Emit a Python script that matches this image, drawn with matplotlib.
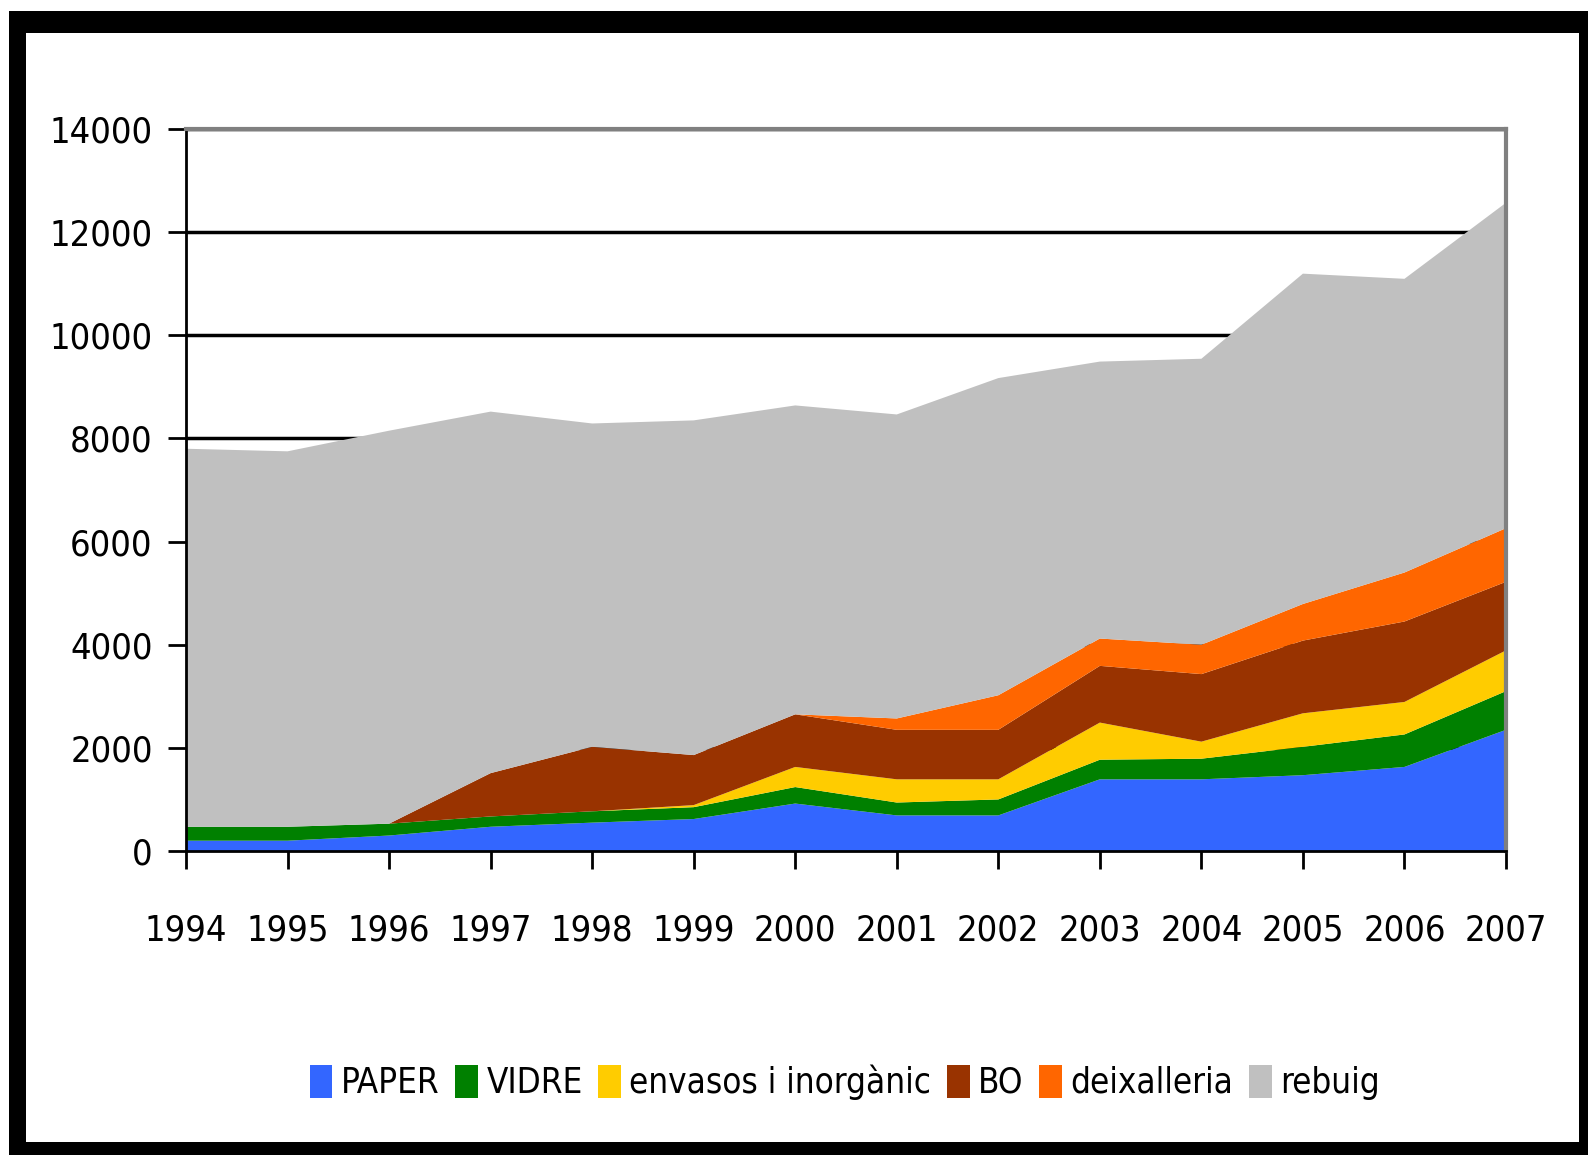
import matplotlib.pyplot as plt
from matplotlib.patches import Rectangle

years = [1994, 1995, 1996, 1997, 1998, 1999, 2000, 2001, 2002, 2003, 2004, 2005, 2006, 2007]
paper = [200, 200, 300, 470, 550, 620, 920, 690, 690, 1390, 1390, 1470, 1630, 2350]
vidre = [270, 270, 230, 200, 220, 230, 320, 250, 310, 380, 400, 550, 630, 750]
envasos = [0, 0, 0, 0, 0, 40, 390, 450, 390, 720, 330, 650, 630, 790]
bo = [0, 0, 0, 840, 1250, 970, 1020, 960, 960, 1100, 1310, 1410, 1560, 1330]
deixalleria = [0, 0, 0, 0, 0, 0, 0, 220, 670, 530, 570, 710, 950, 1040]
rebuig = [7330, 7280, 7620, 7010, 6270, 6490, 5990, 5895, 6150, 5370, 5545, 6405, 5695, 6310]

labels = ['PAPER', 'VIDRE', 'envasos i inorgànic', 'BO', 'deixalleria', 'rebuig']
colors = ['#3366FF', '#008000', '#FFCC00', '#993300', '#FF6600', '#C0C0C0']

font = dict(family='DejaVu Sans', stretch='condensed', size=26)
legfont = dict(family='DejaVu Sans', stretch='condensed', size=25)

fig = plt.figure(figsize=(15.88, 11.55), dpi=100)
ax = fig.add_axes([186 / 1588, 1 - 851 / 1155, 1320 / 1588, 722 / 1155])

ax.stackplot(years, paper, vidre, envasos, bo, deixalleria, rebuig,
             colors=colors, labels=labels, zorder=2)

ax.set_xlim(1994, 2007)
ax.set_ylim(0, 14000)
ax.set_yticks(range(0, 14001, 2000))
ax.set_xticks(years)
ax.set_yticklabels([str(v) for v in range(0, 14001, 2000)], fontdict=font)
ax.set_xticklabels([str(y) for y in years], fontdict=font)
ax.yaxis.grid(True, color='black', linewidth=2.5, zorder=1)
ax.set_axisbelow(True)
ax.tick_params(axis='y', length=13, width=2, pad=11)
ax.tick_params(axis='x', length=13, width=2, pad=32)
for s in ['left', 'bottom']:
    ax.spines[s].set_linewidth(2)
    ax.spines[s].set_color('black')
for s in ['top', 'right']:
    ax.spines[s].set_linewidth(3)
    ax.spines[s].set_color('#808080')

handles, lbls = ax.get_legend_handles_labels()
fig.legend(handles, lbls, loc='center', bbox_to_anchor=(0.532, 0.063), ncol=6,
           frameon=False, prop=legfont, handlelength=0.65, handleheight=1.1,
           handletextpad=0.25, columnspacing=0.45)

# black frame around the chart
w = 1588
h = 1155
for x0, y0, ww, hh in [(9, 11, 1588 - 9, 22), (9, 1142, 1588 - 9, 13),
                       (9, 11, 17, 1155 - 11), (1579, 11, 9, 1155 - 11)]:
    fig.patches.append(Rectangle((x0 / w, 1 - (y0 + hh) / h), ww / w, hh / h,
                                 transform=fig.transFigure, facecolor='black',
                                 edgecolor='none', zorder=5))

fig.savefig('out.png', dpi=100)
